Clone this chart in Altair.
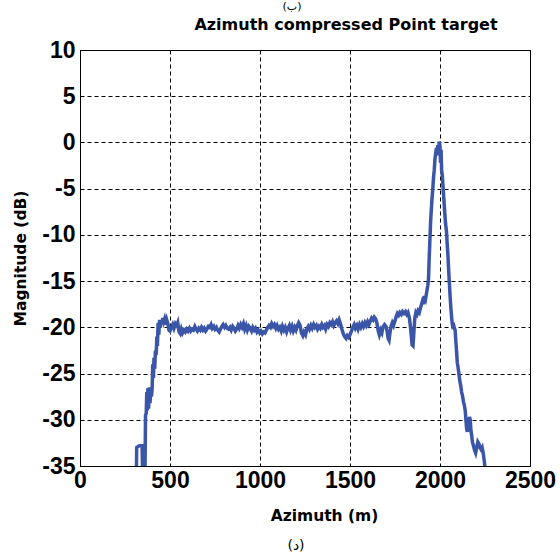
import altair as alt
import pandas as pd

# Azimuth position (m) and compressed magnitude (dB) of the point-target cut
azimuth = [
    300, 312, 315, 330, 345, 350, 360, 364, 368, 371, 374, 377, 381, 385, 389, 393, 397, 401,
    404, 408, 411, 415, 419, 423, 427, 430, 434, 438, 442, 446, 450, 455, 460, 465, 470, 476,
    482, 488, 494, 500, 508, 515, 522, 530, 537, 543, 550, 557, 563, 570, 578, 585, 593, 600,
    608, 615, 622, 630, 638, 645, 652, 660, 668, 675, 683, 690, 698, 705, 713, 720, 728, 735,
    743, 750, 758, 765, 773, 780, 788, 795, 803, 810, 818, 825, 833, 840, 848, 855, 863, 870,
    878, 885, 893, 900, 908, 915, 923, 930, 938, 945, 953, 960, 968, 975, 983, 990, 998, 1005,
    1013, 1020, 1028, 1035, 1043, 1050, 1058, 1065, 1073, 1080, 1088, 1095, 1103, 1110, 1118,
    1125, 1133, 1140, 1148, 1155, 1163, 1170, 1178, 1185, 1193, 1200, 1208, 1215, 1223, 1230,
    1238, 1245, 1253, 1260, 1268, 1275, 1283, 1290, 1298, 1305, 1313, 1320, 1328, 1335, 1343,
    1350, 1358, 1365, 1373, 1380, 1388, 1395, 1403, 1410, 1418, 1425, 1433, 1440, 1447, 1455,
    1463, 1470, 1478, 1485, 1493, 1500, 1508, 1515, 1523, 1530, 1538, 1545, 1553, 1560, 1568,
    1575, 1583, 1590, 1598, 1605, 1613, 1620, 1628, 1635, 1643, 1650, 1657, 1663, 1670, 1677,
    1684, 1692, 1700, 1706, 1712, 1717, 1722, 1728, 1735, 1742, 1750, 1757, 1763, 1770, 1777,
    1785, 1792, 1800, 1808, 1815, 1822, 1830, 1835, 1840, 1845, 1850, 1855, 1860, 1866, 1872,
    1878, 1885, 1890, 1896, 1902, 1908, 1914, 1920, 1926, 1932, 1936, 1940, 1944, 1948, 1952,
    1956, 1960, 1964, 1968, 1972, 1976, 1980, 1984, 1988, 1992, 1996, 2000, 2003, 2006, 2009,
    2013, 2017, 2021, 2026, 2031, 2036, 2040, 2044, 2048, 2052, 2056, 2060, 2064, 2068, 2071,
    2076, 2080, 2084, 2088, 2092, 2096, 2100, 2105, 2110, 2115, 2120, 2125, 2130, 2135, 2140,
    2144, 2148, 2152, 2156, 2160, 2164, 2168, 2172, 2176, 2180, 2186, 2192, 2198, 2204, 2210,
    2216, 2222, 2228, 2234, 2240, 2246, 2252, 2258, 2262,
]
magnitude = [
    -38, -38, -33, -32.8, -32.8, -38, -38, -29.5, -29.3, -27, -29, -26.6, -28.8, -26.5, -28.2,
    -26.8, -27.5, -26.5, -24, -25.5, -23.3, -24.5, -22.5, -23, -21, -22, -19.5, -20.8, -19.2,
    -20, -19.2, -19.6, -19, -19.4, -19.1, -19.7, -19.2, -19.6, -20.3, -20.4, -20.0, -19.7,
    -20.1, -19.6, -19.8, -19.5, -20.5, -20.7, -20.2, -20.6, -20.3, -20.5, -20.2, -20.4, -20.1,
    -20.4, -20.2, -20.3, -19.9, -20.2, -20.4, -20.1, -20.3, -20.0, -20.3, -20.1, -20.4, -20.2,
    -19.9, -20.0, -19.7, -20.1, -19.9, -20.2, -20.0, -20.3, -20.5, -20.2, -19.9, -19.7, -20.0,
    -19.8, -20.1, -20.2, -20.0, -20.3, -19.9, -20.1, -20.4, -20.2, -19.8, -20.1, -19.7, -20.0,
    -19.6, -20.2, -19.8, -20.3, -19.9, -20.1, -20.4, -20.0, -20.3, -20.1, -20.5, -20.3, -20.6,
    -20.4, -20.7, -20.5, -20.6, -20.3, -20.0, -19.8, -20.0, -19.6, -19.9, -19.7, -20.1, -19.8,
    -20.2, -20.0, -20.4, -19.9, -20.3, -20.0, -20.5, -20.1, -19.8, -20.3, -19.9, -20.4, -20.0,
    -20.3, -19.8, -19.5, -19.8, -20.6, -20.9, -20.5, -20.8, -20.2, -19.9, -20.2, -19.8, -20.1,
    -19.7, -20.0, -19.8, -20.2, -19.9, -20.1, -19.7, -20.0, -19.8, -20.2, -19.7, -19.9, -19.5,
    -19.7, -19.4, -19.8, -19.5, -19.3, -19.6, -19.2, -19.6, -20.2, -20.7, -21.0, -21.2, -20.9,
    -21.1, -20.8, -20.4, -20.0, -19.7, -20.1, -19.8, -20.2, -19.7, -20.0, -19.6, -19.9, -19.5,
    -19.8, -19.4, -19.7, -19.3, -19.0, -19.2, -18.9, -19.1, -19.6, -20.4, -20.8, -20.3, -20.6,
    -19.9, -19.7, -19.9, -20.4, -21.2, -21.4, -20.6, -19.9, -19.5, -19.8, -19.3, -18.8, -18.5,
    -18.7, -18.4, -18.6, -18.3, -18.5, -18.3, -18.6, -18.4, -19.0, -19.8, -20.8, -21.9, -22.0,
    -20.5, -19.0, -18.4, -18.6, -18.2, -18.4, -18.0, -17.6, -17.2, -17.5, -16.6, -16.9, -16.2,
    -15.5, -14.8, -12.5, -10.5, -8.5, -7.2, -6.0, -5.0, -3.8, -3.0, -1.8, -1.2, -0.6, -1.4,
    -0.3, -1.0, 0.1, -0.4, -2.2, -0.8, -3.0, -3.6, -4.8, -6.0, -7.5, -8.8, -9.6, -11.0, -12.2,
    -13.8, -15.2, -16.6, -17.8, -18.8, -19.6, -19.9, -19.8, -20.1, -20.3, -21.5, -22.6, -23.8,
    -24.3, -25.0, -25.8, -26.3, -27.0, -27.4, -28.0, -28.4, -29.0, -30.0, -31.0, -31.3, -30.8,
    -30.2, -29.7, -30.0, -31.2, -31.7, -32.4, -32.8, -33.3, -33.6, -33.0, -32.4, -32.6, -33.0,
    -33.2, -33.0, -33.6, -34.5, -35.5, -37, -38,
]

x_ticks = [0, 500, 1000, 1500, 2000, 2500]
y_ticks = [-35, -30, -25, -20, -15, -10, -5, 0, 5, 10]

chart_title = ["Azimuth compressed Point target"]
top_caption = ["(ب)"]
bottom_caption = ["(د)"]

df = pd.DataFrame({"azimuth": azimuth, "magnitude": magnitude})

PLOT_W, PLOT_H = 450, 416
plain_number = "'' + datum.value"

line = alt.Chart(df).mark_line(
    color="#3b56a8", strokeWidth=3.5, clip=True, strokeJoin="miter"
).encode(
    x=alt.X(
        "azimuth:Q",
        scale=alt.Scale(domain=[0, 2500], nice=False, zero=False),
        axis=alt.Axis(
            values=x_ticks,
            labelExpr=plain_number,
            title="Azimuth (m)",
            titleX=244,
            titleY=54,
            titleBaseline="alphabetic",
            labelPadding=3,
        ),
    ),
    y=alt.Y(
        "magnitude:Q",
        scale=alt.Scale(domain=[-35, 10], nice=False, zero=False),
        axis=alt.Axis(
            values=y_ticks,
            labelExpr=plain_number,
            title="Magnitude (dB)",
            titleX=-60,
            titleY=PLOT_H / 2,
            titleAngle=270,
            titleAlign="center",
            titleBaseline="middle",
            labelPadding=5,
        ),
    ),
)

title_text = alt.Chart(pd.DataFrame({"t": chart_title})).mark_text(
    font="DejaVu Sans", fontSize=16, fontWeight="bold", color="black",
    baseline="alphabetic", align="center"
).encode(text="t:N", x=alt.value(266), y=alt.value(-20))

top_text = alt.Chart(pd.DataFrame({"t": top_caption})).mark_text(
    font="DejaVu Sans", fontSize=11, color="black", baseline="top"
).encode(text="t:N", x=alt.value(212), y=alt.value(-49))

bottom_text = alt.Chart(pd.DataFrame({"t": bottom_caption})).mark_text(
    font="DejaVu Sans", fontSize=14, color="black", baseline="alphabetic"
).encode(text="t:N", x=alt.value(216), y=alt.value(500))

chart = (
    alt.layer(line, title_text, top_text, bottom_text)
    .properties(
        width=PLOT_W,
        height=PLOT_H,
        autosize=alt.AutoSizeParams(type="none"),
        padding={"left": 80, "top": 50, "right": 30, "bottom": 87},
    )
    .configure(background="white")
    .configure_view(stroke="black", strokeWidth=1)
    .configure_axis(
        domainColor="black",
        domainWidth=1,
        ticks=False,
        grid=True,
        gridColor="black",
        gridDash=[4, 3],
        gridWidth=1,
        gridOpacity=1,
        labelFont="Liberation Sans",
        labelFontSize=23,
        labelFontWeight="bold",
        labelColor="black",
        labelOverlap=False,
        labelFlush=False,
        labelBound=False,
        titleFont="DejaVu Sans",
        titleFontSize=15.5,
        titleFontWeight="bold",
        titleColor="black",
    )
)

chart.save("out.html", embed_options={"renderer": "svg", "actions": False})
